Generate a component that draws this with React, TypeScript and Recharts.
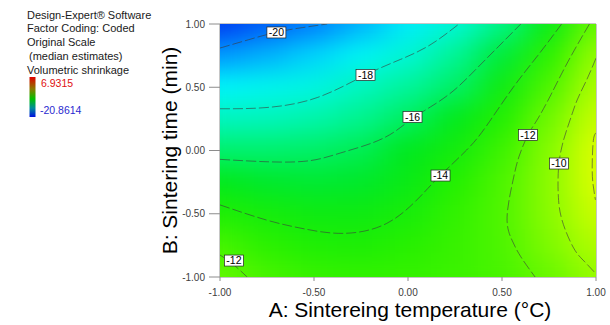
import { ComposedChart, XAxis, YAxis, Scatter, ReferenceArea, Label } from "recharts";

const temperatureTicks = [-1, -0.5, 0, 0.5, 1];
const timeTicks = [-1, -0.5, 0, 0.5, 1];

const gridA = [-1, -0.75, -0.5, -0.25, 0, 0.25, 0.5, 0.75, 1];
const gridB = [1, 0.75, 0.5, 0.25, 0, -0.25, -0.5, -0.75, -1];

// volumetric shrinkage, one row per B level (top row = B 1.00)
const shrinkage = [
  [-21.3, -20.7, -20.15, -19.5, -18.8, -18.05, -16.6, -14.6, -11.5],
  [-19.8, -19.5, -19.1, -18.6, -18.0, -16.8, -15.4, -13.3, -10.1],
  [-18.7, -18.5, -18.25, -17.6, -16.9, -16.1, -14.4, -12.3, -9.3],
  [-17.6, -17.5, -17.2, -16.7, -16.0, -14.9, -13.6, -11.3, -8.5],
  [-16.2, -16.2, -16.1, -15.8, -15.0, -14.2, -12.8, -10.6, -7.8],
  [-14.9, -15.2, -15.3, -15.2, -14.6, -13.5, -12.3, -10.4, -7.85],
  [-13.7, -14.1, -14.4, -14.4, -14.0, -13.1, -12.2, -10.45, -8.4],
  [-12.5, -13.3, -13.7, -13.8, -13.4, -12.9, -12.3, -10.8, -9.2],
  [-11.6, -12.4, -12.9, -13.1, -13.0, -12.8, -12.4, -11.5, -10.05],
];

// contour lines, [A, B] pairs
const contour20 = [[-1, 0.81], [-0.85, 0.875], [-0.7, 0.935], [-0.56, 0.972], [-0.43, 1.0]];
const contour18 = [[-1, 0.33], [-0.75, 0.34], [-0.48, 0.42], [-0.226, 0.597], [-0.04, 0.72], [0.117, 0.834], [0.271, 1.0]];
const contour16 = [
  [-1, -0.07], [-0.73, -0.09], [-0.52, -0.08], [-0.36, -0.02], [-0.19, 0.06], [-0.07, 0.15],
  [0.02, 0.25], [0.12, 0.345], [0.24, 0.47], [0.36, 0.64], [0.48, 0.82], [0.6, 1.0],
];
const contour14 = [
  [-1, -0.43], [-0.752, -0.55], [-0.55, -0.62], [-0.344, -0.655], [-0.113, -0.576], [0.064, -0.365],
  [0.17, -0.2], [0.312, 0.004], [0.42, 0.2], [0.56, 0.5], [0.69, 0.75], [0.817, 1.0],
];
const contour12 = [
  [0.965, 1.0], [0.85, 0.7], [0.76, 0.44], [0.686, 0.24], [0.638, 0.123], [0.59, -0.05],
  [0.559, -0.233], [0.527, -0.526], [0.553, -0.708], [0.6, -0.84], [0.676, -1.0],
];
const contour12Corner = [[-1, -0.826], [-0.93, -0.9], [-0.867, -0.984], [-0.855, -1.0]];
const contour10 = [
  [1.0, 0.73], [0.95, 0.557], [0.9, 0.4], [0.862, 0.241], [0.825, 0.07], [0.803, -0.1],
  [0.798, -0.25], [0.8, -0.37], [0.819, -0.549], [0.878, -0.763], [0.931, -0.866], [1.0, -0.975],
];
const contour8 = [[1.0, 0.14], [0.986, 0.08], [0.98, -0.1], [0.983, -0.25], [0.997, -0.39]];

const tagLevels = ["-20", "-18", "-16", "-14", "-12", "-10", "-12"];
const tagA = [-0.7, -0.226, 0.024, 0.173, 0.638, 0.803, -0.926];
const tagB = [0.933, 0.597, 0.265, -0.198, 0.123, -0.103, -0.87];

const W = 610;
const H = 325;
const MARGIN = { top: 24, right: 14, bottom: 0, left: 160 };
const Y_AXIS_W = 60;
const X_AXIS_H = 48;
const PLOT_W = W - MARGIN.left - MARGIN.right - Y_AXIS_W;
const PLOT_H = H - MARGIN.top - MARGIN.bottom - X_AXIS_H;
const CELL_W = PLOT_W / (gridA.length - 1);
const CELL_H = PLOT_H / (gridB.length - 1);

const FONT = "'Liberation Sans', Arial, Helvetica, sans-serif";

const heatCells = gridB.flatMap((b, i) => gridA.map((a, j) => ({ a, b, z: shrinkage[i][j] })));
const contours = [contour20, contour18, contour16, contour14, contour12, contour12Corner, contour10, contour8].map(
  (pts) => pts.map(([a, b]) => ({ a, b }))
);
const tags = tagLevels.map((text, i) => ({ a: tagA[i], b: tagB[i], text }));

const COLOR_STOPS: [number, number[]][] = [
  [-21.8, [0, 30, 235]],
  [-20.0, [0, 135, 255]],
  [-18.7, [0, 245, 250]],
  [-16.8, [0, 245, 150]],
  [-15.0, [0, 232, 30]],
  [-13.5, [35, 240, 0]],
  [-11.0, [120, 250, 0]],
  [-8.0, [215, 255, 0]],
  [-6.0, [255, 255, 0]],
];

const shrinkColor = (z: number) => {
  if (z <= COLOR_STOPS[0][0]) return `rgb(${COLOR_STOPS[0][1].join(",")})`;
  for (let i = 1; i < COLOR_STOPS.length; i++) {
    const [z1, c1] = COLOR_STOPS[i];
    const [z0, c0] = COLOR_STOPS[i - 1];
    if (z <= z1) {
      const t = (z - z0) / (z1 - z0);
      const c = c0.map((v, k) => Math.round(v + (c1[k] - v) * t));
      return `rgb(${c.join(",")})`;
    }
  }
  return `rgb(${COLOR_STOPS[COLOR_STOPS.length - 1][1].join(",")})`;
};

const HeatCell = (props: any) => {
  const { cx, cy, payload } = props;
  return (
    <rect
      x={cx - CELL_W / 2 - 0.5}
      y={cy - CELL_H / 2 - 0.5}
      width={CELL_W + 1}
      height={CELL_H + 1}
      fill={shrinkColor(payload.z)}
    />
  );
};

const NoDot = () => <g />;

const ContourTag = (props: any) => {
  const { cx, cy, payload } = props;
  return (
    <g>
      <rect x={cx - 9.5} y={cy - 5.5} width={19} height={11} fill="#fff" stroke="#222" strokeWidth={0.7} />
      <text x={cx} y={cy + 3.8} textAnchor="middle" fontSize={10.5} fill="#000" fontFamily={FONT}>
        {payload.text}
      </text>
    </g>
  );
};

const fmt = (v: number) => v.toFixed(2);

export default function App() {
  return (
    <div style={{ position: "absolute", left: 0, top: 0, width: W, height: H, background: "#fff", fontFamily: FONT }}>
      <style>{`.heat { filter: url(#heatBlur); }`}</style>
      <svg width={0} height={0} style={{ position: "absolute" }}>
        <defs>
          <filter id="heatBlur" x="0" y="0" width="1" height="1" colorInterpolationFilters="sRGB">
            <feGaussianBlur stdDeviation="17 12" />
            <feComponentTransfer>
              <feFuncA type="table" tableValues="1 1" />
            </feComponentTransfer>
          </filter>
          <linearGradient id="legendBar" x1="0" y1="0" x2="0" y2="1">
            <stop offset="0%" stopColor="#e00000" />
            <stop offset="30%" stopColor="#8a7a00" />
            <stop offset="55%" stopColor="#00c000" />
            <stop offset="78%" stopColor="#008c9c" />
            <stop offset="100%" stopColor="#0010e0" />
          </linearGradient>
        </defs>
      </svg>

      <svg width={160} height={125} style={{ position: "absolute", left: 0, top: 0 }}>
        <g fontSize={11} fill="#1a1a1a" fontFamily={FONT}>
          <text x={27} y={19}>Design-Expert® Software</text>
          <text x={27} y={32}>Factor Coding: Coded</text>
          <text x={27} y={46}>Original Scale</text>
          <text x={29} y={60}>(median estimates)</text>
          <text x={27} y={74}>Volumetric shrinkage</text>
        </g>
        <rect x={29.5} y={77} width={6} height={40} fill="url(#legendBar)" />
        <text x={41} y={87} fontSize={10.5} fill="#e01010" fontFamily={FONT}>6.9315</text>
        <text x={40} y={114} fontSize={10.5} fill="#2a2ad0" fontFamily={FONT}>-20.8614</text>
      </svg>

      <ComposedChart width={W} height={H} margin={MARGIN}>
        <XAxis
          type="number"
          dataKey="a"
          domain={[-1, 1]}
          ticks={temperatureTicks}
          interval={0}
          allowDataOverflow
          height={X_AXIS_H}
          axisLine={false}
          tickLine={{ stroke: "#8c8c8c" }}
          tickSize={4}
          tickMargin={8}
          tick={{ fontSize: 10, fill: "#404040" }}
          tickFormatter={fmt}
        >
          <Label
            content={(props: any) => {
              const vb = props.viewBox;
              return (
                <text x={vb.x + vb.width / 2 + 2} y={vb.y + 40} textAnchor="middle" fontSize={21} fill="#000" fontFamily={FONT}>
                  A: Sintereing temperature (°C)
                </text>
              );
            }}
          />
        </XAxis>
        <YAxis
          type="number"
          dataKey="b"
          domain={[-1, 1]}
          ticks={timeTicks}
          interval={0}
          allowDataOverflow
          width={Y_AXIS_W}
          axisLine={false}
          tickLine={{ stroke: "#8c8c8c" }}
          tickSize={11}
          tickMargin={4}
          tick={{ fontSize: 10, fill: "#404040" }}
          tickFormatter={fmt}
        >
          <Label
            content={(props: any) => {
              const vb = props.viewBox;
              const cx = vb.x + 17;
              const cy = vb.y + vb.height / 2;
              return (
                <text
                  transform={`translate(${cx},${cy}) rotate(-90)`}
                  textAnchor="middle"
                  fontSize={21}
                  fill="#000"
                  fontFamily={FONT}
                >
                  B: Sintering time (min)
                </text>
              );
            }}
          />
        </YAxis>

        <Scatter className="heat" data={heatCells} shape={HeatCell} isAnimationActive={false} />

        {contours.map((pts, i) => (
          <Scatter
            key={`contour-${i}`}
            data={pts}
            shape={NoDot}
            line={{ stroke: "#3a3a3a", strokeWidth: 0.6, strokeDasharray: "10 3", fill: "none" }}
            lineType="joint"
            lineJointType="natural"
            isAnimationActive={false}
          />
        ))}

        <Scatter data={tags} shape={ContourTag} isAnimationActive={false} />

        <ReferenceArea x1={-1} x2={1} y1={-1} y2={1} fill="none" stroke="#8c8c8c" strokeWidth={1} />
      </ComposedChart>
    </div>
  );
}
